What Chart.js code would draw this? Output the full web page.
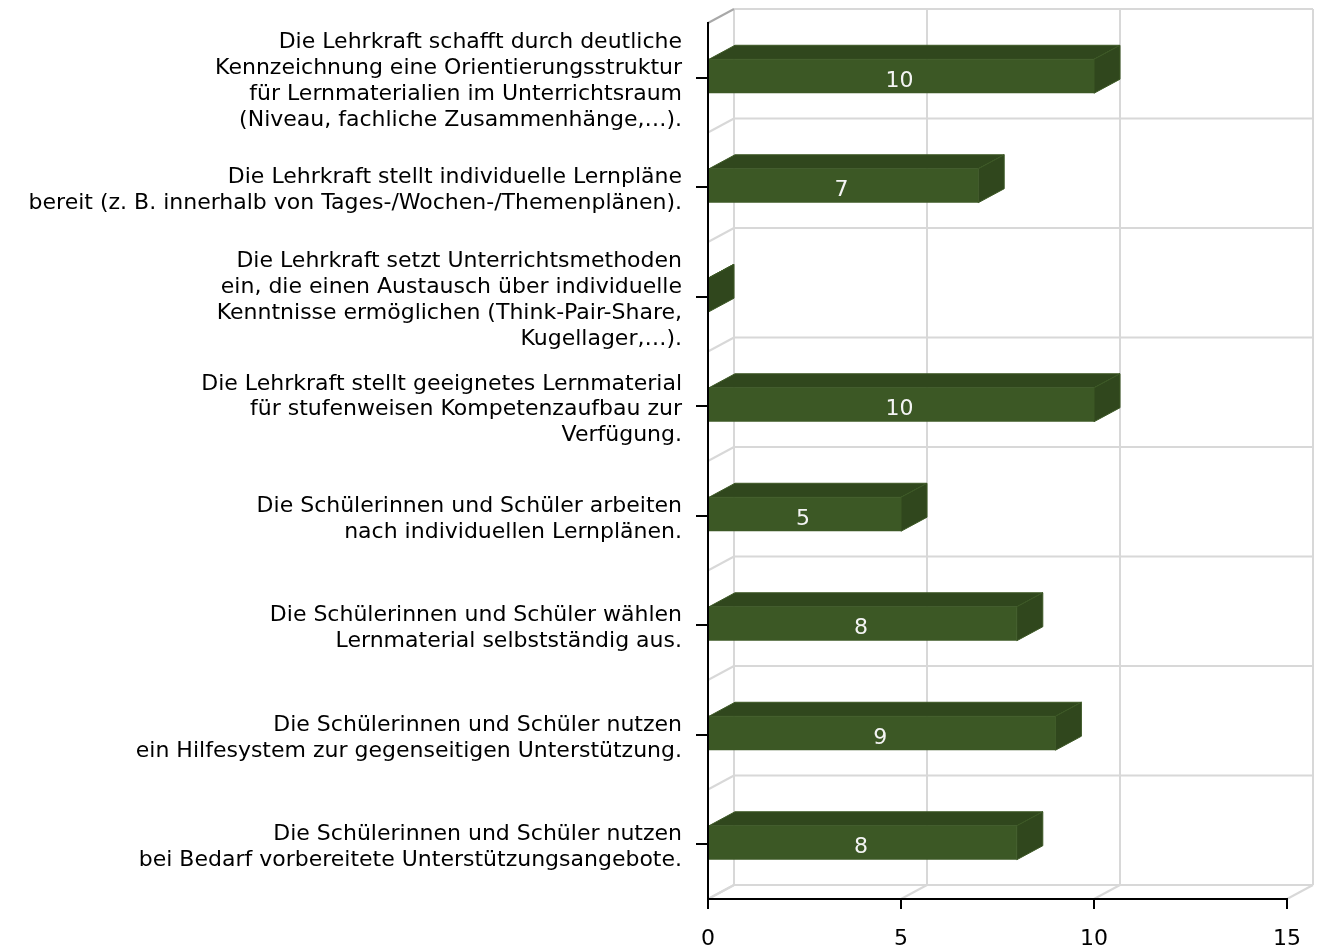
<!DOCTYPE html>
<html>
<head>
<meta charset="utf-8">
<style>
    html, body { margin: 0; padding: 0; background: #fff; }
    canvas { display: block; }
</style>
<script src="https://cdn.jsdelivr.net/npm/chart.js@4"></script>
</head>
<body>
<canvas id="chart" width="1317" height="950"></canvas>
<script>
// Data for chart
const categories = [
    ["Die Lehrkraft schafft durch deutliche", "Kennzeichnung eine Orientierungsstruktur", "für Lernmaterialien im Unterrichtsraum", "(Niveau, fachliche Zusammenhänge,…)."],
    ["Die Lehrkraft stellt individuelle Lernpläne", "bereit (z. B. innerhalb von Tages-/Wochen-/Themenplänen)."],
    ["Die Lehrkraft setzt Unterrichtsmethoden", "ein, die einen Austausch über individuelle", "Kenntnisse ermöglichen (Think-Pair-Share,", "Kugellager,…)."],
    ["Die Lehrkraft stellt geeignetes Lernmaterial", "für stufenweisen Kompetenzaufbau zur", "Verfügung."],
    ["Die Schülerinnen und Schüler arbeiten", "nach individuellen Lernplänen."],
    ["Die Schülerinnen und Schüler wählen", "Lernmaterial selbstständig aus."],
    ["Die Schülerinnen und Schüler nutzen", "ein Hilfesystem zur gegenseitigen Unterstützung."],
    ["Die Schülerinnen und Schüler nutzen", "bei Bedarf vorbereitete Unterstützungsangebote."],
];
const values = [10, 7, 0, 10, 5, 8, 9, 8];

const fontFamily = "Verdana, 'DejaVu Sans', sans-serif";
const depthX = 26;
const depthY = 14;
const barShift = 1.5;
const labelShift = 3.5;
const frontColor = "#3c5825";
const sideColor = "#30471d";
const wallColor = "#d8d8d8";

function line(ctx, x1, y1, x2, y2) {
    ctx.beginPath();
    ctx.moveTo(x1, y1);
    ctx.lineTo(x2, y2);
    ctx.stroke();
}

function face(ctx, pts, fill, edge) {
    ctx.beginPath();
    pts.forEach((p, i) => (i ? ctx.lineTo(p[0], p[1]) : ctx.moveTo(p[0], p[1])));
    ctx.closePath();
    ctx.fillStyle = fill;
    ctx.fill();
    ctx.strokeStyle = edge;
    ctx.lineWidth = 1;
    ctx.stroke();
}

// back wall, floor and left wall behind the bars
const wallPlugin = {
    id: "wall",
    beforeDatasetsDraw(chart) {
        const { ctx, scales } = chart;
        const x = scales.x;
        const y = scales.y;
        const band = (y.bottom - y.top) / categories.length;
        ctx.save();
        ctx.strokeStyle = wallColor;
        ctx.lineWidth = 2;
        x.ticks.forEach((t) => {
            const px = x.getPixelForValue(t.value);
            line(ctx, px + depthX, y.top - depthY, px + depthX, y.bottom - depthY);
            line(ctx, px, y.bottom, px + depthX, y.bottom - depthY);
        });
        for (let i = 0; i <= categories.length; i++) {
            const py = y.top + band * i;
            line(ctx, x.left + depthX, py - depthY, x.right + depthX, py - depthY);
            if (i > 0) line(ctx, x.left, py, x.left + depthX, py - depthY);
        }
        ctx.strokeStyle = "#a8a8a8";
        line(ctx, x.left, y.top, x.left + depthX, y.top - depthY);
        ctx.restore();
    },
};

// top and side faces of each bar
const depthPlugin = {
    id: "depth",
    afterDatasetsUpdate(chart) {
        chart.getDatasetMeta(0).data.forEach((bar) => {
            bar.y -= barShift;
        });
    },
    beforeDraw(chart) {
        // category labels sit a little below their tick
        chart.scales.y.getLabelItems(chart.chartArea).forEach((item) => {
            item.options.translation[1] += labelShift;
        });
    },
    beforeDatasetDraw(chart) {
        const { ctx } = chart;
        ctx.save();
        chart.getDatasetMeta(0).data.forEach((bar) => {
            const top = bar.y - bar.height / 2;
            const bottom = bar.y + bar.height / 2;
            const left = bar.base;
            const right = bar.x;
            face(ctx, [[left, top], [left + depthX, top - depthY], [right + depthX, top - depthY], [right, top]], sideColor, frontColor);
            face(ctx, [[right, top], [right + depthX, top - depthY], [right + depthX, bottom - depthY], [right, bottom]], sideColor, frontColor);
        });
        ctx.restore();
    },
    afterDatasetsDraw(chart) {
        const { ctx } = chart;
        ctx.save();
        ctx.font = "22px " + fontFamily;
        ctx.fillStyle = "#f4f4f4";
        ctx.textAlign = "center";
        ctx.textBaseline = "middle";
        chart.getDatasetMeta(0).data.forEach((bar, i) => {
            if (values[i] > 0) ctx.fillText(values[i], (bar.base + bar.x) / 2 - 2, bar.y + 5);
        });
        ctx.restore();
    },
};

new Chart(document.getElementById("chart").getContext("2d"), {
    type: "bar",
    data: {
        labels: categories,
        datasets: [
            {
                data: values,
                backgroundColor: frontColor,
                borderWidth: 0,
                barPercentage: 0.31,
                categoryPercentage: 1,
            },
        ],
    },
    plugins: [wallPlugin, depthPlugin],
    options: {
        indexAxis: "y",
        responsive: false,
        animation: false,
        layout: { padding: { top: 23, right: 30 } },
        plugins: {
            legend: { display: false },
            tooltip: { enabled: false },
        },
        scales: {
            x: {
                min: 0,
                max: 15,
                afterFit(scale) {
                    scale.height = 51;
                    scale.paddingLeft = 0;
                    scale.paddingRight = 0;
                },
                border: { color: "#000", width: 2, z: 1 },
                grid: { drawOnChartArea: false, tickColor: "#000", tickLength: 10, lineWidth: 2 },
                ticks: {
                    stepSize: 5,
                    maxRotation: 0,
                    padding: 17,
                    color: "#000",
                    font: { family: fontFamily, size: 22 },
                },
            },
            y: {
                afterFit(scale) {
                    scale.width = 708;
                    scale.paddingTop = 0;
                    scale.paddingBottom = 0;
                },
                border: { color: "#000", width: 2, z: 1 },
                grid: { offset: false, drawOnChartArea: false, tickColor: "#000", tickLength: 12, lineWidth: 2 },
                ticks: {
                    padding: 14,
                    autoSkip: false,
                    color: "#000",
                    font: { family: fontFamily, size: 22, lineHeight: 1.18 },
                },
            },
        },
    },
});
</script>
</body>
</html>
